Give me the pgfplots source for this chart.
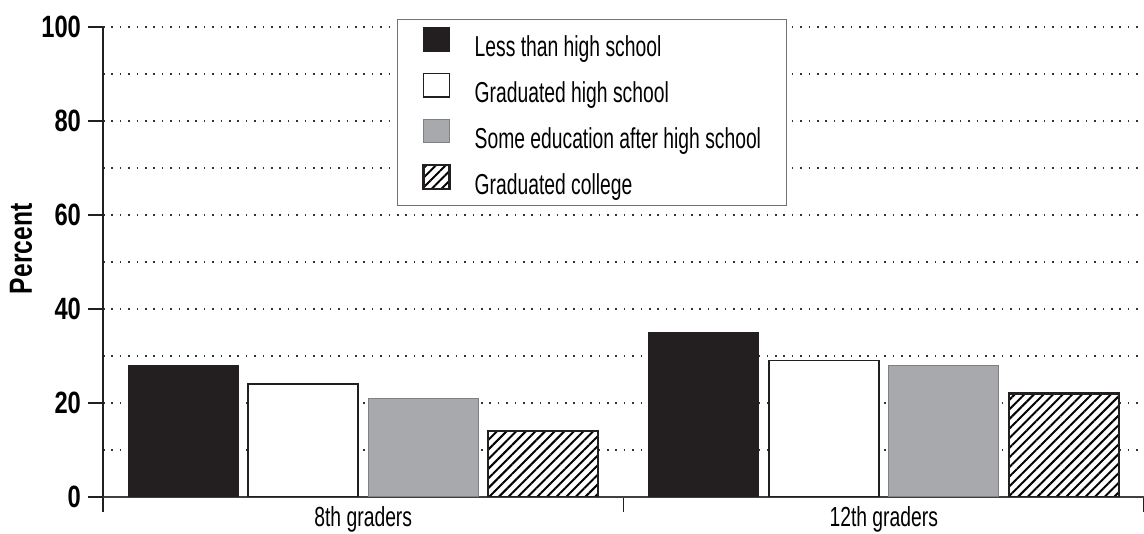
\documentclass[border=0pt]{standalone}
\usepackage{pgfplots}
\pgfplotsset{compat=1.18}
\usetikzlibrary{patterns.meta}
\usepackage{fontspec}
\setmainfont{Liberation Sans}[FakeStretch=0.67]
\newfontfamily\xcond{Liberation Sans}[FakeStretch=0.70]
\newfontfamily\bcond{Liberation Sans}[FakeStretch=0.77]
\definecolor{barblack}{HTML}{231F20}
\definecolor{bargray}{HTML}{A7A9AC}
\pgfplotsset{
  lgd/.style={legend image code/.code={%
    \draw[##1] (0pt,-1.5pt) rectangle (13pt,10.3pt);
    \path (25pt,0pt);}},
}
\begin{document}
\begin{tikzpicture}
\begin{axis}[
  at={(0,0)}, anchor=south west,
  scale only axis, width=520.5pt, height=235pt,
  xmin=0, xmax=2, ymin=0, ymax=100,
  ybar=5pt, bar width=55pt,
  axis x line*=bottom, axis y line*=left,
  axis line style={-},
  x axis line style={color=black!75, line width=0.8pt},
  y axis line style={color=barblack, line width=1.1pt},
  tick align=outside, major tick length=7.5pt, minor tick length=0pt,
  tick style={color=barblack, line width=0.8pt},
  xtick={0,1,2}, x tick label as interval,
  xticklabels={8th graders,12th graders},
  xticklabel style={anchor=base, yshift=-7pt, font=\xcond\fontsize{13.8}{16}\selectfont},
  ytick={0,20,...,100}, minor ytick={10,30,...,90},
  ymajorgrids, yminorgrids,
  grid style={line width=0.8pt, dash pattern=on 0.8pt off 3.4pt, color=black!80},
  minor grid style={line width=0.8pt, dash pattern=on 0.8pt off 3.4pt, color=black!80},
  /pgf/number format/assume math mode=true,
  yticklabel style={font=\bcond\bfseries\fontsize{15.4}{18}\selectfont},
  ylabel={\bcond\bfseries\fontsize{16}{19}\selectfont Percent},
  ylabel style={at={(rel axis cs:-0.0788,0.528)}, anchor=center},
  legend cell align=left,
  legend style={at={(rel axis cs:0.2824,1.017)}, anchor=north west,
    draw=black!55, line width=0.5pt, fill=white,
    inner xsep=12.5pt, inner ysep=3.75pt, row sep=6pt,
    nodes={inner sep=0pt, text height=10.5pt, text depth=2pt,
      font=\fontsize{14.4}{17}\selectfont}},
]
% Parents' highest level of education
\addplot[fill=barblack, draw=barblack, line width=0.5pt, lgd]
  coordinates {(0.5,28) (1.5,35)};
\addplot[fill=white, draw=barblack, line width=0.8pt, lgd]
  coordinates {(0.5,24) (1.5,29)};
\addplot[fill=bargray, draw=black!50, line width=0.5pt, lgd]
  coordinates {(0.5,21) (1.5,28)};
\addplot[preaction={fill=white}, pattern={Lines[angle=45,distance=3.4pt,line width=1pt]},
  draw=barblack, line width=1.1pt, lgd]
  coordinates {(0.5,14) (1.5,22)};
\legend{Less than high school, Graduated high school,
  Some education after high school, Graduated college}
\end{axis}
\pgfresetboundingbox
\useasboundingbox (-51.5pt,-18.5pt) rectangle (520.5pt,248.5pt);
\end{tikzpicture}
\end{document}
